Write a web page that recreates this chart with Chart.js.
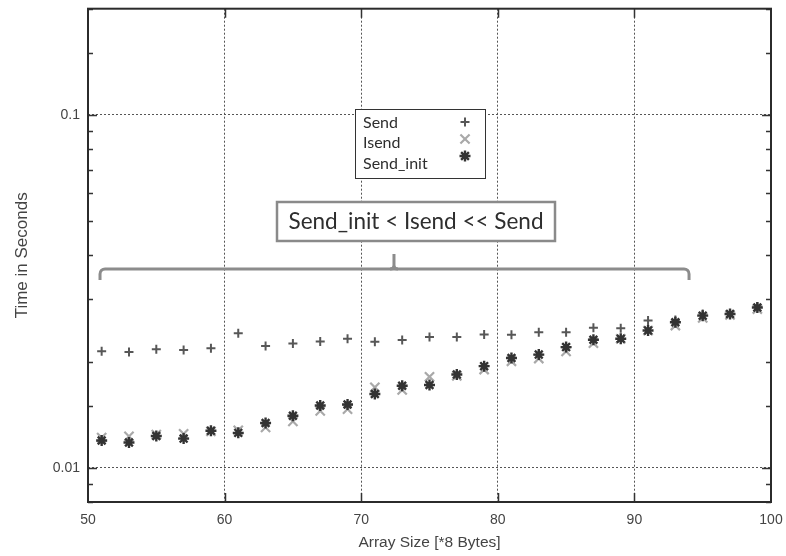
<!DOCTYPE html>
<html>
<head>
<meta charset="utf-8">
<script src="https://cdn.jsdelivr.net/npm/chart.js@4.4.1/dist/chart.umd.min.js"></script>
<style>
  html, body { margin: 0; padding: 0; background: #fff; }
  #wrap { width: 786px; height: 556px; position: relative; }
</style>
</head>
<body>
<div id="wrap"><canvas id="grafico"></canvas></div>
<script>
let grafico = null;

const tamanhos = [51, 53, 55, 57, 59, 61, 63, 65, 67, 69, 71, 73, 75, 77, 79, 81, 83, 85, 87, 89, 91, 93, 95, 97, 99];
const tempoSend = [0.02138, 0.02129, 0.02166, 0.02156, 0.02181, 0.02406, 0.02213, 0.02252, 0.02281, 0.02321, 0.02277, 0.02301, 0.02346,
  0.02346, 0.02387, 0.02382, 0.02423, 0.02423, 0.02493, 0.02486, 0.02613, 0.02625, 0.02729, 0.02739, 0.02860];
const tempoIsend = [0.01218, 0.01228, 0.01242, 0.01248, 0.01269, 0.01277, 0.01302, 0.01354, 0.01450, 0.01466, 0.01691, 0.01662, 0.01811,
  0.01823, 0.01899, 0.02004, 0.02040, 0.02138, 0.02256, 0.02321, 0.02449, 0.02530, 0.02659, 0.02711, 0.02818];
const tempoSendInit = [0.01195, 0.01179, 0.01231, 0.01210, 0.01274, 0.01256, 0.01339, 0.01404, 0.01501, 0.01511, 0.01619, 0.01708, 0.01716,
  0.01839, 0.01941, 0.02048, 0.02093, 0.02198, 0.02306, 0.02321, 0.02449, 0.02585, 0.02699, 0.02729, 0.02847];
const nomesSeries = ['Send', 'Isend', 'Send_init'];
const rotulosY = [0.01, 0.1];
const textoAnotacao = 'Send_init < Isend << Send';

// chave (brace) em coordenadas de dados: inicio, meio, fim e altura
const chaveX = [50.88, 72.4, 94.0];
const chaveY = 0.0366;

const fonteEixo = '"Liberation Sans", Arial, sans-serif';
const fonteTexto = 'Lato, "Open Sans", sans-serif';

function eMaior(v) {
  const l = Math.log10(v);
  return Math.abs(l - Math.round(l)) < 1e-6;
}

function pontos(valores) {
  return tamanhos.map((x, i) => ({ x, y: valores[i] }));
}

function simbolo(ctx, ds, x, y) {
  const opts = { pointStyle: ds.pointStyle, radius: ds.pointRadius, borderWidth: ds.pointBorderWidth, rotation: 0 };
  ctx.save();
  ctx.strokeStyle = ds.pointBorderColor;
  ctx.fillStyle = ds.pointBackgroundColor;
  ctx.lineWidth = ds.pointBorderWidth;
  Chart.helpers.drawPoint(ctx, opts, x, y);
  ctx.restore();
}

const moldura = {
  id: 'moldura',
  afterDraw(chart) {
    const { ctx, chartArea: a, scales } = chart;
    const sx = scales.x, sy = scales.y;
    ctx.save();

    // ticks para dentro do grafico
    ctx.strokeStyle = '#333';
    ctx.lineWidth = 1.5;
    ctx.beginPath();
    sy.ticks.forEach(t => {
      const y = Math.round(sy.getPixelForValue(t.value)) + 0.5;
      const len = eMaior(t.value) ? 9 : 5;
      ctx.moveTo(a.left, y); ctx.lineTo(a.left + len, y);
      ctx.moveTo(a.right, y); ctx.lineTo(a.right - len, y);
    });
    sx.ticks.forEach(t => {
      if (t.value <= sx.min || t.value >= sx.max) return;
      const x = Math.round(sx.getPixelForValue(t.value)) + 0.5;
      ctx.moveTo(x, a.bottom); ctx.lineTo(x, a.bottom - 9);
      ctx.moveTo(x, a.top); ctx.lineTo(x, a.top + 9);
    });
    ctx.stroke();

    ctx.strokeStyle = '#2b2b2b';
    ctx.lineWidth = 2;
    ctx.strokeRect(a.left, a.top, a.right - a.left, a.bottom - a.top);

    // chave
    const xl = sx.getPixelForValue(chaveX[0]);
    const xm = sx.getPixelForValue(chaveX[1]);
    const xr = sx.getPixelForValue(chaveX[2]);
    const yb = sy.getPixelForValue(chaveY);
    const r = 5;
    ctx.strokeStyle = '#8c8c8c';
    ctx.lineWidth = 3;
    ctx.beginPath();
    ctx.moveTo(xl, yb + 11);
    ctx.arcTo(xl, yb, xl + r, yb, r);
    ctx.lineTo(xr - r, yb);
    ctx.arcTo(xr, yb, xr, yb + 11, r);
    ctx.lineTo(xr, yb + 11);
    ctx.stroke();
    ctx.beginPath();
    ctx.moveTo(xm - 4, yb);
    ctx.quadraticCurveTo(xm, yb, xm, yb - 4);
    ctx.lineTo(xm, yb - 15);
    ctx.moveTo(xm + 4, yb);
    ctx.quadraticCurveTo(xm, yb, xm, yb - 4);
    ctx.stroke();

    // caixa de anotacao
    ctx.fillStyle = '#fff';
    ctx.fillRect(277, 202, 278, 39);
    ctx.strokeStyle = '#8a8a8a';
    ctx.lineWidth = 2.5;
    ctx.strokeRect(277, 202, 278, 39);
    ctx.fillStyle = '#2e2e2e';
    ctx.font = '22.5px ' + fonteTexto;
    ctx.textAlign = 'center';
    ctx.textBaseline = 'middle';
    ctx.fillText(textoAnotacao, 416, 222);

    // legenda
    ctx.fillStyle = '#fff';
    ctx.fillRect(355, 109, 130, 69);
    ctx.strokeStyle = '#333';
    ctx.lineWidth = 1;
    ctx.strokeRect(355.5, 109.5, 130, 69);
    ctx.fillStyle = '#2e2e2e';
    ctx.font = '16px ' + fonteTexto;
    ctx.textAlign = 'left';
    const linhasTexto = [123, 143, 164];
    const linhasSimbolo = [122, 139, 156];
    nomesSeries.forEach((nome, i) => {
      ctx.fillText(nome, 363, linhasTexto[i]);
      const ds = chart.data.datasets.find(d => d.label === nome);
      simbolo(ctx, ds, 465, linhasSimbolo[i]);
    });

    ctx.restore();
  }
};

function desenharGrafico() {
  const ctx = document.getElementById('grafico').getContext('2d');
  if (grafico) grafico.destroy();

  grafico = new Chart(ctx, {
    type: 'scatter',
    data: {
      datasets: [
        {
          label: 'Send', data: pontos(tempoSend), order: 2,
          pointStyle: 'cross', pointRadius: 4.5, pointBorderWidth: 2,
          pointBorderColor: '#575757', pointBackgroundColor: '#575757'
        },
        {
          label: 'Isend', data: pontos(tempoIsend), order: 1,
          pointStyle: 'crossRot', pointRadius: 6.5, pointBorderWidth: 2.2,
          pointBorderColor: '#a9a9a9', pointBackgroundColor: '#a9a9a9'
        },
        {
          label: 'Send_init', data: pontos(tempoSendInit), order: 0,
          pointStyle: 'star', pointRadius: 5.5, pointBorderWidth: 2.4,
          pointBorderColor: '#333', pointBackgroundColor: '#333'
        }
      ]
    },
    options: {
      responsive: true,
      maintainAspectRatio: false,
      animation: false,
      devicePixelRatio: 1,
      layout: { padding: { left: 0, right: 15, top: 7, bottom: 0 } },
      scales: {
        x: {
          type: 'linear',
          min: 50,
          max: 100,
          afterFit: s => { s.height = 54; s.paddingLeft = 0; s.paddingRight = 0; },
          border: { display: false, dash: [2, 2] },
          grid: {
            drawTicks: false,
            lineWidth: 1,
            color: c => (c.tick && (c.tick.value === 50 || c.tick.value === 100)) ? 'rgba(0,0,0,0)' : '#555'
          },
          ticks: {
            stepSize: 10,
            padding: 10,
            color: '#444',
            font: { family: fonteEixo, size: 14 }
          },
          title: {
            display: true,
            text: 'Array Size [*8 Bytes]',
            color: '#444',
            font: { family: fonteEixo, size: 15.5 },
            padding: { top: 0, bottom: 4 }
          }
        },
        y: {
          type: 'logarithmic',
          min: 0.008,
          max: 0.2,
          afterFit: s => { s.width = 88; s.paddingTop = 0; s.paddingBottom = 0; },
          border: { display: false, dash: [2, 2] },
          grid: {
            drawTicks: false,
            lineWidth: 1,
            color: c => (c.tick && eMaior(c.tick.value)) ? '#555' : 'rgba(0,0,0,0)'
          },
          ticks: {
            autoSkip: false,
            padding: 8,
            color: '#444',
            font: { family: fonteEixo, size: 14 },
            callback: v => rotulosY.some(r => Math.abs(r - v) < 1e-9) ? String(v) : ''
          },
          title: {
            display: true,
            text: 'Time in Seconds',
            color: '#444',
            font: { family: fonteEixo, size: 17 },
            padding: { top: 12, bottom: 0 }
          }
        }
      },
      plugins: {
        legend: { display: false },
        tooltip: { enabled: false }
      }
    },
    plugins: [moldura]
  });
}

desenharGrafico();
</script>
</body>
</html>
